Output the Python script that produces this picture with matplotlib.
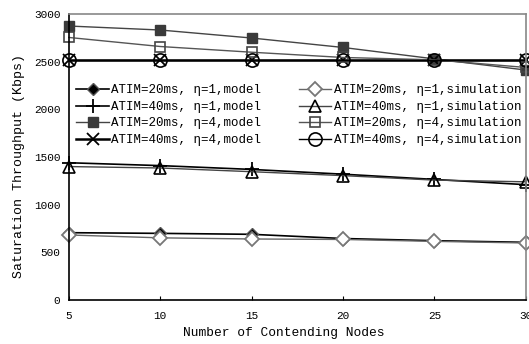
import matplotlib
matplotlib.use("Agg")
import matplotlib.pyplot as plt

nodes = [5, 10, 15, 20, 25, 30]

# ATIM=20ms, eta=1
a20_e1_model = [706, 699, 689, 645, 622, 605]
a20_e1_sim = [682, 652, 640, 635, 615, 598]
# ATIM=40ms, eta=1
a40_e1_model = [1440, 1410, 1370, 1320, 1265, 1210]
a40_e1_sim = [1400, 1385, 1346, 1305, 1258, 1240]
# ATIM=20ms, eta=4
a20_e4_model = [2875, 2833, 2749, 2650, 2530, 2413]
a20_e4_sim = [2755, 2660, 2600, 2545, 2520, 2440]
# ATIM=40ms, eta=4
a40_e4_model = [2518, 2518, 2518, 2518, 2518, 2518]
a40_e4_sim = [2522, 2522, 2522, 2522, 2522, 2522]

plt.rcParams["font.family"] = ["Liberation Mono", "DejaVu Sans Mono"]

fig = plt.figure(figsize=(5.29, 3.44), dpi=100)
ax = fig.add_axes([0.130, 0.128, 0.864, 0.831])

ax.plot(nodes, a20_e1_model, "-", marker="D", color="black", mfc="black",
        mec="#555555", ms=6.5, lw=1.2, clip_on=False,
        label="ATIM=20ms, η=1,model")
ax.plot(nodes, a40_e1_model, "-", marker="+", color="black", ms=10,
        mew=1.3, lw=1.2, clip_on=False, label="ATIM=40ms, η=1,model")
ax.plot(nodes, a20_e4_model, "-", marker="s", color="#444444", mfc="#3a3a3a",
        mec="#3a3a3a", ms=7, lw=1.0, clip_on=False,
        label="ATIM=20ms, η=4,model")
ax.plot(nodes, a40_e4_model, "-", marker="x", color="black", ms=9,
        mew=1.3, lw=1.8, clip_on=False, label="ATIM=40ms, η=4,model")

ax.plot(nodes, a20_e1_sim, "-", marker="D", color="#666666", mfc="white",
        mec="#777777", mew=1.3, ms=7, lw=1.0, clip_on=False,
        label="ATIM=20ms, η=1,simulation")
ax.plot(nodes, a40_e1_sim, "-", marker="^", color="#444444", mfc="none",
        mec="black", mew=1.2, ms=8, lw=1.0, clip_on=False,
        label="ATIM=40ms, η=1,simulation")
ax.plot(nodes, a20_e4_sim, "-", marker="s", color="#555555", mfc="none",
        mec="#444444", mew=1.2, ms=6.5, lw=1.0, clip_on=False,
        label="ATIM=20ms, η=4,simulation")
ax.plot(nodes, a40_e4_sim, "-", marker="o", color="black", mfc="none",
        mec="black", mew=1.2, ms=9.5, lw=1.0, clip_on=False,
        label="ATIM=40ms, η=4,simulation")

ax.set_xlim(5, 30)
ax.set_ylim(0, 3000)
ax.set_xticks(nodes)
ax.set_yticks(range(0, 3001, 500))
ax.tick_params(axis="both", direction="in", labelsize=8, length=3)
ax.tick_params(axis="x", pad=8)
ax.tick_params(axis="y", length=0, pad=6)

for side in ["top", "right"]:
    ax.spines[side].set_color("#888888")
    ax.spines[side].set_linewidth(1.2)
for side in ["left", "bottom"]:
    ax.spines[side].set_linewidth(1.2)

ax.set_xlabel("Number of Contending Nodes", fontsize=9.3)
ax.xaxis.set_label_coords(0.47, -0.095)
ax.set_ylabel("Saturation Throughput (Kbps)", fontsize=9.5)
ax.yaxis.set_label_coords(-0.095, 0.47)

ax.legend(loc="upper left", bbox_to_anchor=(0.0, 0.78), ncol=2, frameon=False,
          fontsize=9, handlelength=2.6, handletextpad=0.2, columnspacing=3.0,
          labelspacing=0.36, borderaxespad=0.2)

fig.savefig("out.png", dpi=100)
